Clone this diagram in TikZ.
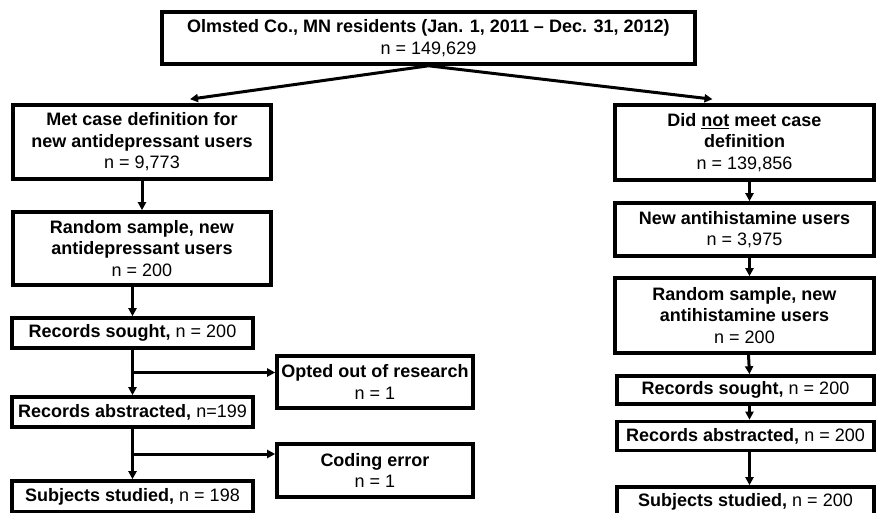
\documentclass[tikz,border=0pt]{standalone}
\usepackage{fontspec}
\setmainfont{Liberation Sans}
\usetikzlibrary{arrows.meta,calc}
\begin{document}
\begin{tikzpicture}[x=1pt,y=-1pt,
  box/.style={draw=black,line width=3.6pt,fill=white,inner sep=0pt,align=center,
    font=\fontsize{18}{21.6}\selectfont},
  arr/.style={line width=3pt,-{Triangle[length=8pt,width=8pt]}},
  ln/.style={line width=3pt}]
\useasboundingbox (0,0) rectangle (881,513);
\node[box,minimum width=533pt,minimum height=52pt] (top) at (428.5,38)
  {\textbf{Olmsted Co., MN residents (Jan. 1, 2011 – Dec. 31, 2012)}\\n = 149,629};
\node[box,minimum width=258pt,minimum height=74pt] (L1) at (142,142)
  {\textbf{Met case definition for}\\\textbf{new antidepressant users}\\n = 9,773};
\node[box,minimum width=258pt,minimum height=73pt] (L2) at (142,248.5)
  {\textbf{Random sample, new}\\\textbf{antidepressant users}\\n = 200};
\node[box,minimum width=241pt,minimum height=30pt] (L3) at (132.5,333)
  {\textbf{Records sought,} n = 200};
\node[box,minimum width=241pt,minimum height=30pt] (L4) at (132.5,412)
  {\textbf{Records abstracted,} n=199};
\node[box,minimum width=241pt,minimum height=31pt] (L5) at (132.5,496.5)
  {\textbf{Subjects studied,} n = 198};
\node[box,minimum width=196pt,minimum height=52pt] (O) at (375,382)
  {\textbf{Opted out of research}\\n = 1};
\node[box,minimum width=196pt,minimum height=53pt] (C) at (375,470.5)
  {\textbf{Coding error}\\n = 1};
\node[box,minimum width=259pt,minimum height=75pt] (R1) at (744.5,142.5)
  {\textbf{Did \underline{not} meet case}\\\textbf{definition}\\n = 139,856};
\node[box,minimum width=259pt,minimum height=53pt] (R2) at (744.5,229.5)
  {\textbf{New antihistamine users}\\n = 3,975};
\node[box,minimum width=259pt,minimum height=75pt] (R3) at (744.5,315.5)
  {\textbf{Random sample, new}\\\textbf{antihistamine users}\\n = 200};
\node[box,minimum width=257pt,minimum height=28pt] (R4) at (745.5,390)
  {\textbf{Records sought,} n = 200};
\node[box,minimum width=257pt,minimum height=29pt] (R5) at (745.5,436)
  {\textbf{Records abstracted,} n = 200};
\node[box,minimum width=257pt,minimum height=30pt] (R6) at (745.5,502)
  {\textbf{Subjects studied,} n = 200};
% top split
\coordinate (tl) at ([xshift=48pt,yshift=4pt]L1.north);
\coordinate (tr) at ([xshift=-32pt,yshift=4pt]R1.north);
\draw[arr] (top.south) -- (tl);
\draw[arr] (top.south) -- (tr);
% left column
\draw[arr] (L1.south) -- (L2.north);
\draw[arr] (L3.north |- L2.south) -- (L3.north);
\draw[arr] (L3.south) -- (L4.north);
\coordinate (b1) at ($(L3.south)!0.5!(L4.north)$);
\draw[arr] (b1) -- (b1 -| O.west);
\draw[arr] (L4.south) -- (L5.north);
\coordinate (b2) at ($(L4.south)!0.5!(L5.north)$);
\draw[arr] (b2) -- (b2 -| C.west);
% right column
\draw[arr] ([xshift=5pt]R1.south) -- ([xshift=5pt]R2.north);
\draw[arr] ([xshift=5pt]R2.south) -- ([xshift=5pt]R3.north);
\draw[arr] ([xshift=4pt]R3.south) -- ([xshift=4pt]R4.north);
\draw[arr] ([xshift=4pt]R4.south) -- ([xshift=4pt]R5.north);
\draw[arr] ([xshift=4pt]R5.south) -- ([xshift=4pt]R6.north);
\end{tikzpicture}
\end{document}
